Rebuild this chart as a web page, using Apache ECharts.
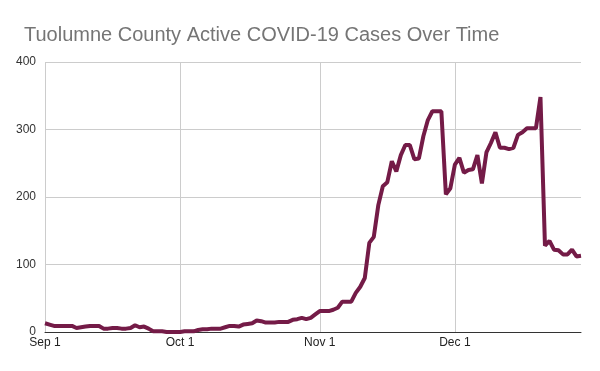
<!DOCTYPE html>
<html>
<head>
<meta charset="utf-8">
<script src="https://cdn.jsdelivr.net/npm/echarts@6/dist/echarts.min.js"></script>
<style>
html,body{margin:0;padding:0;background:#fff;}
#chart{width:600px;height:371px;}
</style>
</head>
<body>
<div id="chart"></div>
<script>
// Daily dates from Sep 1 to Dec 29 (2020)
var startDate = [2020, 8, 1]; // year, month index (0-based), day
var dayCount = 120;
var monthNames = ["Jan","Feb","Mar","Apr","May","Jun","Jul","Aug","Sep","Oct","Nov","Dec"];
var categories = [];
for (var i = 0; i < dayCount; i++) {
  var d = new Date(startDate[0], startDate[1], startDate[2] + i);
  categories.push(monthNames[d.getMonth()] + " " + d.getDate());
}

// Active cases, one value per day
var activeCases = [
  13, 11, 9, 9, 9, 9, 9, 6, 7, 8,
  9, 9, 9, 5, 5, 6, 6, 5, 5, 6,
  10, 7, 8, 5, 1, 1, 1, 0, 0, 0,
  0, 1, 1, 1, 3, 4, 4, 5, 5, 5,
  7, 9, 9, 8, 11, 12, 13, 17, 16, 14,
  14, 14, 15, 15, 15, 18, 19, 21, 19, 21,
  26, 31, 31, 31, 33, 36, 45, 45, 45, 58,
  67, 80, 132, 141, 188, 216, 222, 253, 238, 262,
  277, 277, 256, 257, 290, 314, 327, 327, 327, 204,
  213, 248, 258, 236, 240, 241, 262, 220, 266, 280,
  296, 273, 273, 271, 273, 292, 296, 302, 302, 302,
  348, 128, 135, 122, 121, 115, 115, 122, 112, 113
];

var yTicks = [0, 100, 200, 300, 400];

function isMonthStart(idx, val) {
  return / 1$/.test(val);
}

var chart = echarts.init(document.getElementById('chart'), null, {renderer: 'canvas'});
chart.setOption({
  backgroundColor: '#ffffff',
  animation: false,
  title: {
    text: 'Tuolumne County Active COVID-19 Cases Over Time',
    left: 19,
    top: 20,
    textStyle: {
      fontFamily: 'Liberation Sans, Arial, sans-serif',
      fontSize: 20,
      fontWeight: 'normal',
      color: '#757575'
    }
  },
  grid: {
    left: 45,
    right: 19,
    top: 62,
    bottom: 39,
    containLabel: false
  },
  xAxis: {
    type: 'category',
    data: categories,
    boundaryGap: false,
    axisLine: {show: true, lineStyle: {color: '#333333', width: 1}},
    axisTick: {show: false},
    axisLabel: {
      interval: function (idx, val) { return isMonthStart(idx, val); },
      fontFamily: 'Liberation Sans, Arial, sans-serif',
      fontSize: 12,
      color: '#222222',
      margin: 5
    },
    splitLine: {
      show: true,
      interval: function (idx, val) { return isMonthStart(idx, val); },
      lineStyle: {color: '#cccccc', width: 1}
    }
  },
  yAxis: {
    type: 'value',
    min: yTicks[0],
    max: yTicks[yTicks.length - 1],
    interval: 100,
    axisLine: {show: false},
    axisTick: {show: false},
    axisLabel: {
      fontFamily: 'Liberation Sans, Arial, sans-serif',
      fontSize: 12,
      color: '#333333',
      margin: 9
    },
    splitLine: {lineStyle: {color: '#cccccc', width: 1}}
  },
  series: [{
    type: 'line',
    data: activeCases,
    showSymbol: false,
    symbol: 'none',
    lineStyle: {color: '#741b47', width: 4},
    itemStyle: {color: '#741b47'},
    z: 3
  }]
});
</script>
</body>
</html>
